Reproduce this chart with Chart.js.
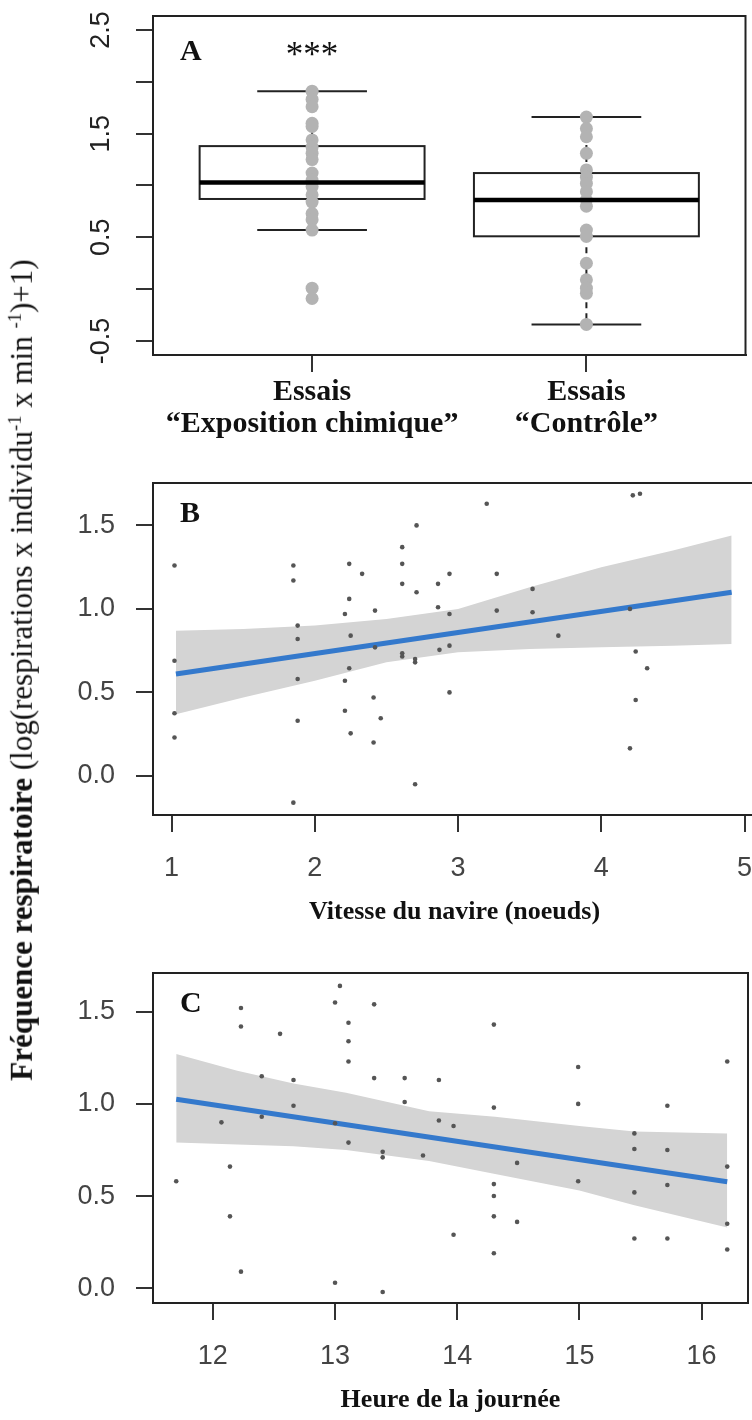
<!DOCTYPE html>
<html>
<head>
<meta charset="utf-8">
<script src="https://cdn.jsdelivr.net/npm/chart.js@4.4.1/dist/chart.umd.min.js"></script>
<style>
  html, body { margin: 0; padding: 0; background: #fff; }
  body { width: 752px; height: 1420px; overflow: hidden; position: relative; }
  canvas { position: absolute; left: 0; }
  #ylab {
    position: absolute; left: 22px; top: 670px;
    transform: translate(-50%, -50%) rotate(-90deg);
    white-space: nowrap; font-family: "Liberation Serif", serif; font-size: 31px; color: #111;
  }
  #ylab sup { font-size: 60%; }
</style>
</head>
<body>
<canvas id="chartA" width="752" height="440" style="top:0px"></canvas>
<canvas id="chartB" width="760" height="475" style="top:460px"></canvas>
<canvas id="chartC" width="752" height="473" style="top:950px"></canvas>
<div id="ylab"><b>Fréquence respiratoire</b> (log(respirations x individu<sup>-1</sup> x min <sup>-1</sup>)+1)</div>
<script>
// Panneau A : boîtes à moustaches
var A_GROUPS = [1, 2];
var A_LABELS = [["Essais", "“Exposition chimique”"], ["Essais", "“Contrôle”"]];
var A_Y_TICKS = [-0.5, 0, 0.5, 1, 1.5, 2, 2.5];
var A_Y_TICK_LABELS = ["-0.5", "", "0.5", "", "1.5", "", "2.5"];
var A_EXPO = [1.91, 1.83, 1.76, 1.6, 1.57, 1.44, 1.37, 1.31, 1.25, 1.12, 1.05, 0.99, 0.91, 0.84, 0.73, 0.67, 0.57, 0.01, -0.09];
var A_CTRL = [1.66, 1.55, 1.47, 1.31, 1.15, 1.08, 1.02, 0.94, 0.86, 0.8, 0.57, 0.51, 0.25, 0.09, 0.01, -0.04, -0.34];
var A_LOW = [0.57, -0.34];
var A_Q1 = [0.87, 0.51];
var A_MED = [1.03, 0.86];
var A_Q3 = [1.38, 1.12];
var A_HIGH = [1.91, 1.66];
var A_MARK = "***";

// Panneau B : vitesse du navire
var B_X = [1.02, 1.02, 1.02, 1.02, 1.85, 1.85, 1.88, 1.88, 1.88, 1.88, 1.85, 2.24, 2.33, 2.24, 2.21, 2.42, 2.25, 2.42, 2.24, 2.21, 2.21, 2.41, 2.46, 2.25, 2.41, 2.61, 2.61, 2.61, 2.71, 2.61, 2.61, 2.70, 2.70, 2.70, 2.71, 2.94, 2.86, 2.86, 2.94, 2.87, 2.94, 2.94, 3.20, 3.27, 3.27, 3.52, 3.52, 3.70, 4.20, 4.24, 4.32, 4.24, 4.20, 4.22, 4.27];
var B_Y = [1.26, 0.69, 0.375, 0.23, 1.26, 1.17, 0.90, 0.82, 0.58, 0.33, -0.16, 1.27, 1.21, 1.06, 0.97, 0.99, 0.84, 0.77, 0.645, 0.57, 0.39, 0.47, 0.345, 0.255, 0.20, 1.37, 1.27, 1.15, 1.10, 0.735, 0.715, 0.70, 0.68, -0.05, 1.50, 1.21, 1.15, 1.01, 0.97, 0.755, 0.78, 0.50, 1.63, 1.21, 0.99, 1.12, 0.98, 0.84, 1.00, 0.745, 0.645, 0.455, 0.165, 1.68, 1.69];
var B_FIT_X = [1.03, 4.91];
var B_FIT_Y = [0.61, 1.10];
var B_BAND_X = [1.03, 1.5, 2.0, 2.5, 3.0, 3.5, 4.0, 4.5, 4.91];
var B_BAND_HI = [0.87, 0.88, 0.90, 0.94, 1.00, 1.13, 1.25, 1.35, 1.44];
var B_BAND_LO = [0.37, 0.47, 0.57, 0.68, 0.74, 0.76, 0.77, 0.78, 0.79];
var B_X_TICKS = [1, 2, 3, 4, 5];
var B_Y_TICKS = [0, 0.5, 1, 1.5];
var B_Y_TICK_LABELS = ["0.0", "0.5", "1.0", "1.5"];

// Panneau C : heure de la journée
var C_X = [11.70, 12.23, 12.23, 12.55, 12.40, 12.66, 12.66, 12.07, 12.40, 12.14, 12.14, 12.23, 13.04, 13.00, 13.32, 13.11, 13.11, 13.11, 13.32, 13.57, 13.57, 13.00, 13.11, 13.39, 13.39, 13.72, 13.00, 13.39, 13.85, 13.85, 13.97, 13.97, 14.30, 14.30, 14.30, 14.30, 14.30, 14.30, 14.49, 14.49, 14.99, 14.99, 14.99, 15.45, 15.45, 15.45, 15.45, 15.72, 15.72, 15.72, 15.72, 16.21, 16.21, 16.21, 16.21];
var C_Y = [0.58, 1.52, 1.42, 1.38, 1.15, 1.13, 0.99, 0.90, 0.93, 0.66, 0.39, 0.09, 1.64, 1.55, 1.54, 1.44, 1.34, 1.23, 1.14, 1.14, 1.01, 0.895, 0.79, 0.74, 0.71, 0.72, 0.03, -0.02, 1.13, 0.91, 0.88, 0.29, 1.43, 0.98, 0.565, 0.50, 0.39, 0.19, 0.68, 0.36, 1.20, 1.00, 0.58, 0.84, 0.755, 0.52, 0.27, 0.99, 0.75, 0.56, 0.27, 1.23, 0.66, 0.35, 0.21];
var C_FIT_X = [11.70, 16.21];
var C_FIT_Y = [1.025, 0.578];
var C_BAND_X = [11.70, 12.2, 12.66, 13.09, 13.77, 14.31, 15.0, 15.45, 16.21];
var C_BAND_HI = [1.27, 1.18, 1.11, 1.06, 0.96, 0.93, 0.88, 0.85, 0.84];
var C_BAND_LO = [0.79, 0.78, 0.77, 0.75, 0.69, 0.62, 0.53, 0.45, 0.33];
var C_X_TICKS = [12, 13, 14, 15, 16];
var C_Y_TICKS = [0, 0.5, 1, 1.5];
var C_Y_TICK_LABELS = ["0.0", "0.5", "1.0", "1.5"];

var BOX_HALF = 0.41;
var CAP_HALF = 0.2;

Chart.defaults.font.family = "'Liberation Sans', Arial, sans-serif";
Chart.defaults.animation = false;

function pairs(xs, ys) {
  return xs.map(function (v, i) { return { x: v, y: ys[i] }; });
}

function fixedTicks(values) {
  return function (scale) {
    scale.ticks = values.map(function (v) { return { value: v }; });
  };
}

// cadre + lettre du panneau + étoiles
var panelText = {
  id: "panelText",
  afterDraw: function (chart, args, opts) {
    var a = chart.chartArea;
    var ctx = chart.ctx;
    ctx.save();
    ctx.strokeStyle = "#222";
    ctx.lineWidth = 2;
    ctx.strokeRect(a.left, a.top, a.right - a.left, a.bottom - a.top);
    ctx.fillStyle = "#111";
    ctx.font = "bold 30px 'Liberation Serif'";
    ctx.textBaseline = "middle";
    ctx.fillText(opts.letter, a.left + 27, a.top + opts.letterDy);
    if (opts.mark) {
      ctx.font = "35px 'Liberation Serif'";
      ctx.textAlign = "center";
      ctx.textBaseline = "alphabetic";
      ctx.fillText(opts.mark, chart.scales.x.getPixelForValue(opts.markAt), a.top + 50);
    }
    ctx.restore();
  },
};

function seg(ctx, x1, y1, x2, y2) {
  ctx.beginPath();
  ctx.moveTo(x1, y1);
  ctx.lineTo(x2, y2);
  ctx.stroke();
}

var boxPlugin = {
  id: "boxes",
  beforeDatasetsDraw: function (chart) {
    var xs = chart.scales.x, ys = chart.scales.y, ctx = chart.ctx;
    ctx.save();
    ctx.strokeStyle = "#222";
    ctx.lineWidth = 2;
    for (var i = 0; i < A_GROUPS.length; i++) {
      var g = A_GROUPS[i];
      var cx = xs.getPixelForValue(g);
      var l = xs.getPixelForValue(g - BOX_HALF), r = xs.getPixelForValue(g + BOX_HALF);
      var cl = xs.getPixelForValue(g - CAP_HALF), cr = xs.getPixelForValue(g + CAP_HALF);
      ctx.setLineDash([6, 5]);
      seg(ctx, cx, ys.getPixelForValue(A_Q3[i]), cx, ys.getPixelForValue(A_HIGH[i]));
      seg(ctx, cx, ys.getPixelForValue(A_Q1[i]), cx, ys.getPixelForValue(A_LOW[i]));
      ctx.setLineDash([]);
      seg(ctx, cl, ys.getPixelForValue(A_HIGH[i]), cr, ys.getPixelForValue(A_HIGH[i]));
      seg(ctx, cl, ys.getPixelForValue(A_LOW[i]), cr, ys.getPixelForValue(A_LOW[i]));
      var top = ys.getPixelForValue(A_Q3[i]), bot = ys.getPixelForValue(A_Q1[i]);
      ctx.strokeRect(l, top, r - l, bot - top);
    }
    ctx.restore();
  },
  afterDatasetsDraw: function (chart) {
    var xs = chart.scales.x, ys = chart.scales.y, ctx = chart.ctx;
    ctx.save();
    ctx.strokeStyle = "#000";
    ctx.lineWidth = 4.5;
    for (var i = 0; i < A_GROUPS.length; i++) {
      var g = A_GROUPS[i];
      var m = ys.getPixelForValue(A_MED[i]);
      seg(ctx, xs.getPixelForValue(g - BOX_HALF), m, xs.getPixelForValue(g + BOX_HALF), m);
    }
    ctx.restore();
  },
};

var axisGrid = { drawOnChartArea: false, tickLength: 17, color: "#333", lineWidth: 2 };
var axisBorder = { color: "#333", width: 2 };

// A
new Chart(document.getElementById("chartA"), {
  type: "scatter",
  data: {
    datasets: [
      {
        data: pairs(A_EXPO.map(function () { return A_GROUPS[0]; }), A_EXPO)
          .concat(pairs(A_CTRL.map(function () { return A_GROUPS[1]; }), A_CTRL)),
        pointRadius: 6.5,
        pointBackgroundColor: "#b3b3b3",
        pointBorderWidth: 0,
      },
    ],
  },
  options: {
    responsive: false,
    layout: { padding: { top: 16, right: 1, bottom: 0, left: 0 } },
    plugins: {
      legend: { display: false },
      tooltip: { enabled: false },
      panelText: { letter: "A", letterDy: 36, mark: A_MARK, markAt: A_GROUPS[0] },
    },
    scales: {
      x: {
        type: "linear", min: 0.42, max: 2.58,
        afterBuildTicks: fixedTicks(A_GROUPS),
        afterFit: function (s) { s.height = 85; s.paddingLeft = 0; s.paddingRight = 0; },
        ticks: {
          autoSkip: false, padding: 4, color: "#111",
          font: { family: "'Liberation Serif'", size: 30, weight: "bold", lineHeight: 1.07 },
          callback: function (v, i) { return A_LABELS[i]; },
        },
        grid: axisGrid, border: axisBorder,
      },
      y: {
        min: -0.635, max: 2.635,
        afterBuildTicks: fixedTicks(A_Y_TICKS),
        afterFit: function (s) { s.width = 153; s.paddingTop = 0; s.paddingBottom = 0; },
        ticks: {
          minRotation: 90, maxRotation: 90, crossAlign: "center", padding: 11, color: "#222",
          font: { size: 27 },
          callback: function (v, i) { return A_Y_TICK_LABELS[i]; },
        },
        grid: axisGrid, border: axisBorder,
      },
    },
  },
  plugins: [boxPlugin, panelText],
});

function regressionChart(id, letter, px, py, fx, fy, bx, lo, hi, xr, yr, xt, yt, ylab, title) {
  return new Chart(document.getElementById(id), {
    type: "line",
    data: {
      datasets: [
        { data: pairs(px, py), showLine: false, pointRadius: 2.3, pointBackgroundColor: "#555", pointBorderWidth: 0, order: 0 },
        { data: pairs(fx, fy), borderColor: "#3479cc", borderWidth: 5, pointRadius: 0, fill: false, order: 1 },
        { data: pairs(bx, hi), borderWidth: 0, pointRadius: 0, fill: { target: 3 }, backgroundColor: "#d4d4d4", order: 2 },
        { data: pairs(bx, lo), borderWidth: 0, pointRadius: 0, fill: false, order: 3 },
      ],
    },
    options: {
      responsive: false,
      layout: { padding: { top: 23, right: 2, bottom: 0, left: 0 } },
      plugins: {
        legend: { display: false },
        tooltip: { enabled: false },
        filler: { drawTime: "beforeDatasetsDraw" },
        panelText: { letter: letter, letterDy: 31 },
      },
      scales: {
        x: {
          type: "linear", min: xr[0], max: xr[1],
          afterBuildTicks: fixedTicks(xt),
          afterFit: function (s) { s.height = 120; s.paddingLeft = 0; s.paddingRight = 0; },
          ticks: { autoSkip: false, padding: 20, color: "#444", font: { size: 27 }, callback: function (v) { return String(v); } },
          grid: axisGrid, border: axisBorder,
          title: {
            display: true, text: title, color: "#111",
            font: { family: "'Liberation Serif'", size: 26, weight: "bold", lineHeight: 1.2 },
            padding: { top: 0, bottom: 7 },
          },
        },
        y: {
          min: yr[0], max: yr[1],
          afterBuildTicks: fixedTicks(yt),
          afterFit: function (s) { s.width = 153; s.paddingTop = 0; s.paddingBottom = 0; },
          ticks: { padding: 21, color: "#444", font: { size: 27 }, callback: function (v, i) { return ylab[i]; } },
          grid: axisGrid, border: axisBorder,
        },
      },
    },
    plugins: [panelText],
  });
}

regressionChart("chartB", "B", B_X, B_Y, B_FIT_X, B_FIT_Y, B_BAND_X, B_BAND_LO, B_BAND_HI,
  [0.87, 5.08], [-0.234, 1.754], B_X_TICKS, B_Y_TICKS, B_Y_TICK_LABELS, "Vitesse du navire (noeuds)");
regressionChart("chartC", "C", C_X, C_Y, C_FIT_X, C_FIT_Y, C_BAND_X, C_BAND_LO, C_BAND_HI,
  [11.51, 16.38], [-0.08, 1.71], C_X_TICKS, C_Y_TICKS, C_Y_TICK_LABELS, "Heure de la journée");
</script>
</body>
</html>
